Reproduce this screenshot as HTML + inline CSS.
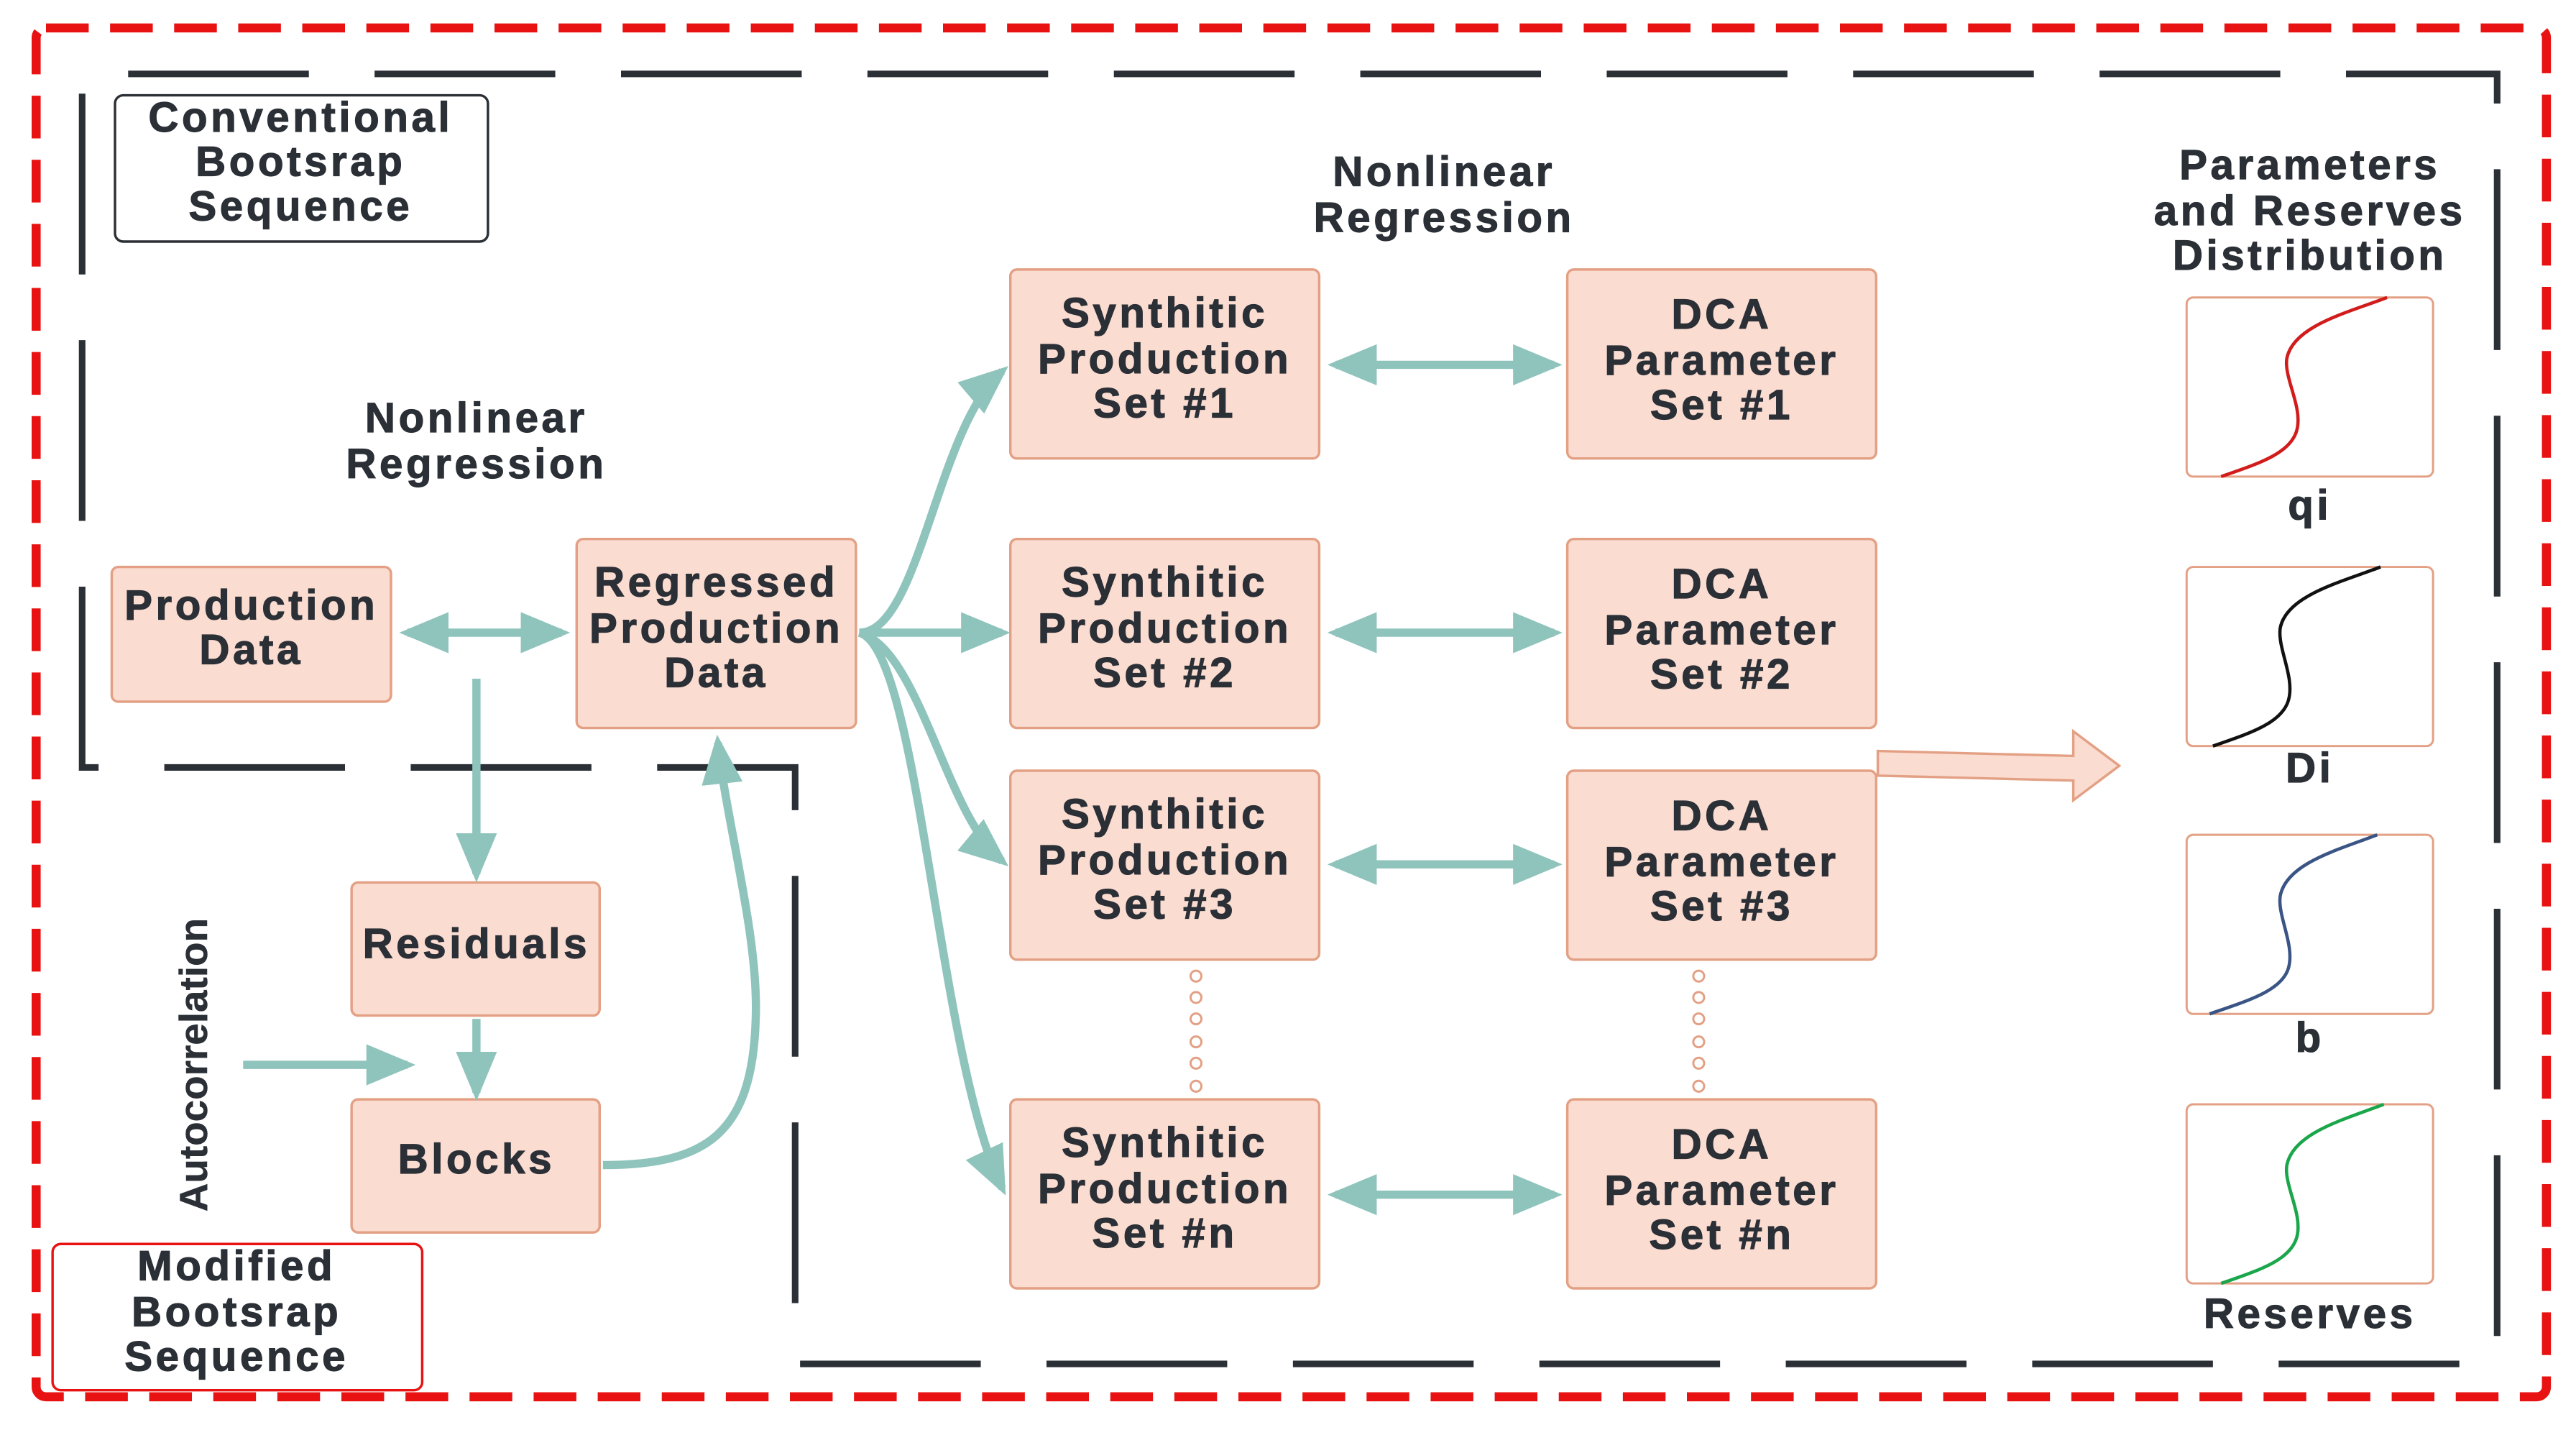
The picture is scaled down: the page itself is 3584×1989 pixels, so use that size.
<!DOCTYPE html>
<html><head><meta charset="utf-8"><style>
html,body{margin:0;padding:0;background:#fff;}
svg{display:block;}
text{font-family:"Liberation Sans",Arial,sans-serif;font-weight:bold;fill:#2b2f36;stroke:#2b2f36;stroke-width:0.5px;font-size:25.5px;letter-spacing:2px;text-anchor:middle;}
text.ac{font-size:24px;letter-spacing:0px;stroke-width:0.2px;}
</style></head><body>
<svg width="3584" height="1989" viewBox="0 0 1568 870.2" preserveAspectRatio="none" xmlns="http://www.w3.org/2000/svg">
<defs>
<marker id="ah" markerWidth="6" markerHeight="5" refX="5" refY="2.5" orient="auto" markerUnits="strokeWidth">
<path d="M0,0 L6,2.5 L0,5 Z" fill="#8fc4bd"/></marker>
<marker id="as" markerWidth="6" markerHeight="5" refX="1" refY="2.5" orient="auto" markerUnits="strokeWidth">
<path d="M6,0 L0,2.5 L6,5 Z" fill="#8fc4bd"/></marker>
</defs>
<rect x="22" y="17" width="1528" height="833" rx="6" fill="none" stroke="#e81212" stroke-width="5.5" stroke-dasharray="26 13"/>
<path d="M50,467 L50,45 L1520,45 L1520,830 L484,830 L484,467 Z" fill="none" stroke="#2b2f36" stroke-width="4" stroke-dasharray="110 40"/>
<rect x="70" y="58" width="227" height="89" rx="5" fill="#fff" stroke="#2b2f36" stroke-width="1.5"/>
<text x="183" y="80">Conventional</text><text x="183" y="107">Bootsrap</text><text x="183" y="134">Sequence</text>
<rect x="32" y="757" width="225" height="89" rx="5" fill="#fff" stroke="#e81212" stroke-width="1.5"/>
<text x="144" y="779">Modified</text><text x="144" y="807">Bootsrap</text><text x="144" y="834">Sequence</text>
<text x="290" y="263">Nonlinear</text><text x="290" y="291">Regression</text>
<text x="879" y="113">Nonlinear</text><text x="879" y="141">Regression</text>
<text x="1406" y="109">Parameters</text><text x="1406" y="137">and Reserves</text><text x="1406" y="164">Distribution</text>
<text class="ac" transform="translate(126,648) rotate(-90)">Autocorrelation</text>
<g fill="#fadcd1" stroke="#e3a084" stroke-width="1.5">
<rect x="68" y="345" width="170" height="82" rx="4"/>
<rect x="351" y="328" width="170" height="115" rx="4"/>
<rect x="214" y="537" width="151" height="81" rx="4"/>
<rect x="214" y="669" width="151" height="81" rx="4"/>
<rect x="615" y="164" width="188" height="115" rx="4"/>
<rect x="615" y="328" width="188" height="115" rx="4"/>
<rect x="615" y="469" width="188" height="115" rx="4"/>
<rect x="615" y="669" width="188" height="115" rx="4"/>
<rect x="954" y="164" width="188" height="115" rx="4"/>
<rect x="954" y="328" width="188" height="115" rx="4"/>
<rect x="954" y="469" width="188" height="115" rx="4"/>
<rect x="954" y="669" width="188" height="115" rx="4"/>
<polygon points="1143,457 1262,460 1262,445 1290,466 1262,487 1262,475 1143,472"/>
</g>
<text x="153" y="377">Production</text><text x="153" y="404">Data</text>
<text x="436" y="363">Regressed</text><text x="436" y="391">Production</text><text x="436" y="418">Data</text>
<text x="290" y="583">Residuals</text>
<text x="290" y="714">Blocks</text>
<g>
<text x="709" y="199">Synthitic</text><text x="709" y="227">Production</text><text x="709" y="254">Set #1</text>
<text x="709" y="363">Synthitic</text><text x="709" y="391">Production</text><text x="709" y="418">Set #2</text>
<text x="709" y="504">Synthitic</text><text x="709" y="532">Production</text><text x="709" y="559">Set #3</text>
<text x="709" y="704">Synthitic</text><text x="709" y="732">Production</text><text x="709" y="759">Set #n</text>
<text x="1048" y="200">DCA</text><text x="1048" y="228">Parameter</text><text x="1048" y="255">Set #1</text>
<text x="1048" y="364">DCA</text><text x="1048" y="392">Parameter</text><text x="1048" y="419">Set #2</text>
<text x="1048" y="505">DCA</text><text x="1048" y="533">Parameter</text><text x="1048" y="560">Set #3</text>
<text x="1048" y="705">DCA</text><text x="1048" y="733">Parameter</text><text x="1048" y="760">Set #n</text>
</g>
<g fill="none" stroke="#8fc4bd" stroke-width="5">
<path d="M248,385 L342,385" marker-start="url(#as)" marker-end="url(#ah)"/>
<path d="M290,413 L290,532" marker-end="url(#ah)"/>
<path d="M290,620 L290,665" marker-end="url(#ah)"/>
<path d="M148,648 L248,648" marker-end="url(#ah)"/>
<path d="M367,709 C430,709 458,690 460,620 C462,570 442,500 437,452" marker-end="url(#ah)"/>
<path d="M523,385 C560,385 570,260 610,226" marker-end="url(#ah)"/>
<path d="M523,385 L610,385" marker-end="url(#ah)"/>
<path d="M523,385 C560,395 575,495 610,524" marker-end="url(#ah)"/>
<path d="M523,385 C560,395 570,640 610,723" marker-end="url(#ah)"/>
<path d="M813,222 L946,222" marker-start="url(#as)" marker-end="url(#ah)"/>
<path d="M813,385 L946,385" marker-start="url(#as)" marker-end="url(#ah)"/>
<path d="M813,526 L946,526" marker-start="url(#as)" marker-end="url(#ah)"/>
<path d="M813,727 L946,727" marker-start="url(#as)" marker-end="url(#ah)"/>
</g>
<g fill="#fff" stroke="#e3a084" stroke-width="1.3">
<circle cx="728" cy="594" r="3.3"/><circle cx="728" cy="607" r="3.3"/><circle cx="728" cy="620" r="3.3"/><circle cx="728" cy="634" r="3.3"/><circle cx="728" cy="647" r="3.3"/><circle cx="728" cy="661" r="3.3"/>
<circle cx="1034" cy="594" r="3.3"/><circle cx="1034" cy="607" r="3.3"/><circle cx="1034" cy="620" r="3.3"/><circle cx="1034" cy="634" r="3.3"/><circle cx="1034" cy="647" r="3.3"/><circle cx="1034" cy="661" r="3.3"/>
</g>
<g fill="#fff" stroke="#e3a084" stroke-width="1.3">
<rect x="1331" y="181" width="150" height="109" rx="4"/>
<rect x="1331" y="345" width="150" height="109" rx="4"/>
<rect x="1331" y="508" width="150" height="109" rx="4"/>
<rect x="1331" y="672" width="150" height="109" rx="4"/>
</g>
<g fill="none" stroke-width="2">
<path d="M1352,290 C1375,282 1394,276 1398,262 C1402,248 1390,230 1392,218 C1396,198 1430,190 1453,181" stroke="#d21c1c"/>
<path d="M1347,454 C1370,446 1389,440 1393,426 C1397,412 1386,394 1388,382 C1392,362 1426,354 1449,345" stroke="#111"/>
<path d="M1345,617 C1368,609 1389,603 1393,589 C1397,575 1386,557 1388,545 C1392,525 1424,517 1447,508" stroke="#3a5585"/>
<path d="M1352,781 C1375,773 1394,767 1398,753 C1402,739 1390,721 1392,709 C1396,689 1428,681 1451,672" stroke="#1aa64a"/>
</g>
<text x="1406" y="316">qi</text>
<text x="1406" y="476">Di</text>
<text x="1406" y="640">b</text>
<text x="1406" y="808">Reserves</text>
</svg>
</body></html>
